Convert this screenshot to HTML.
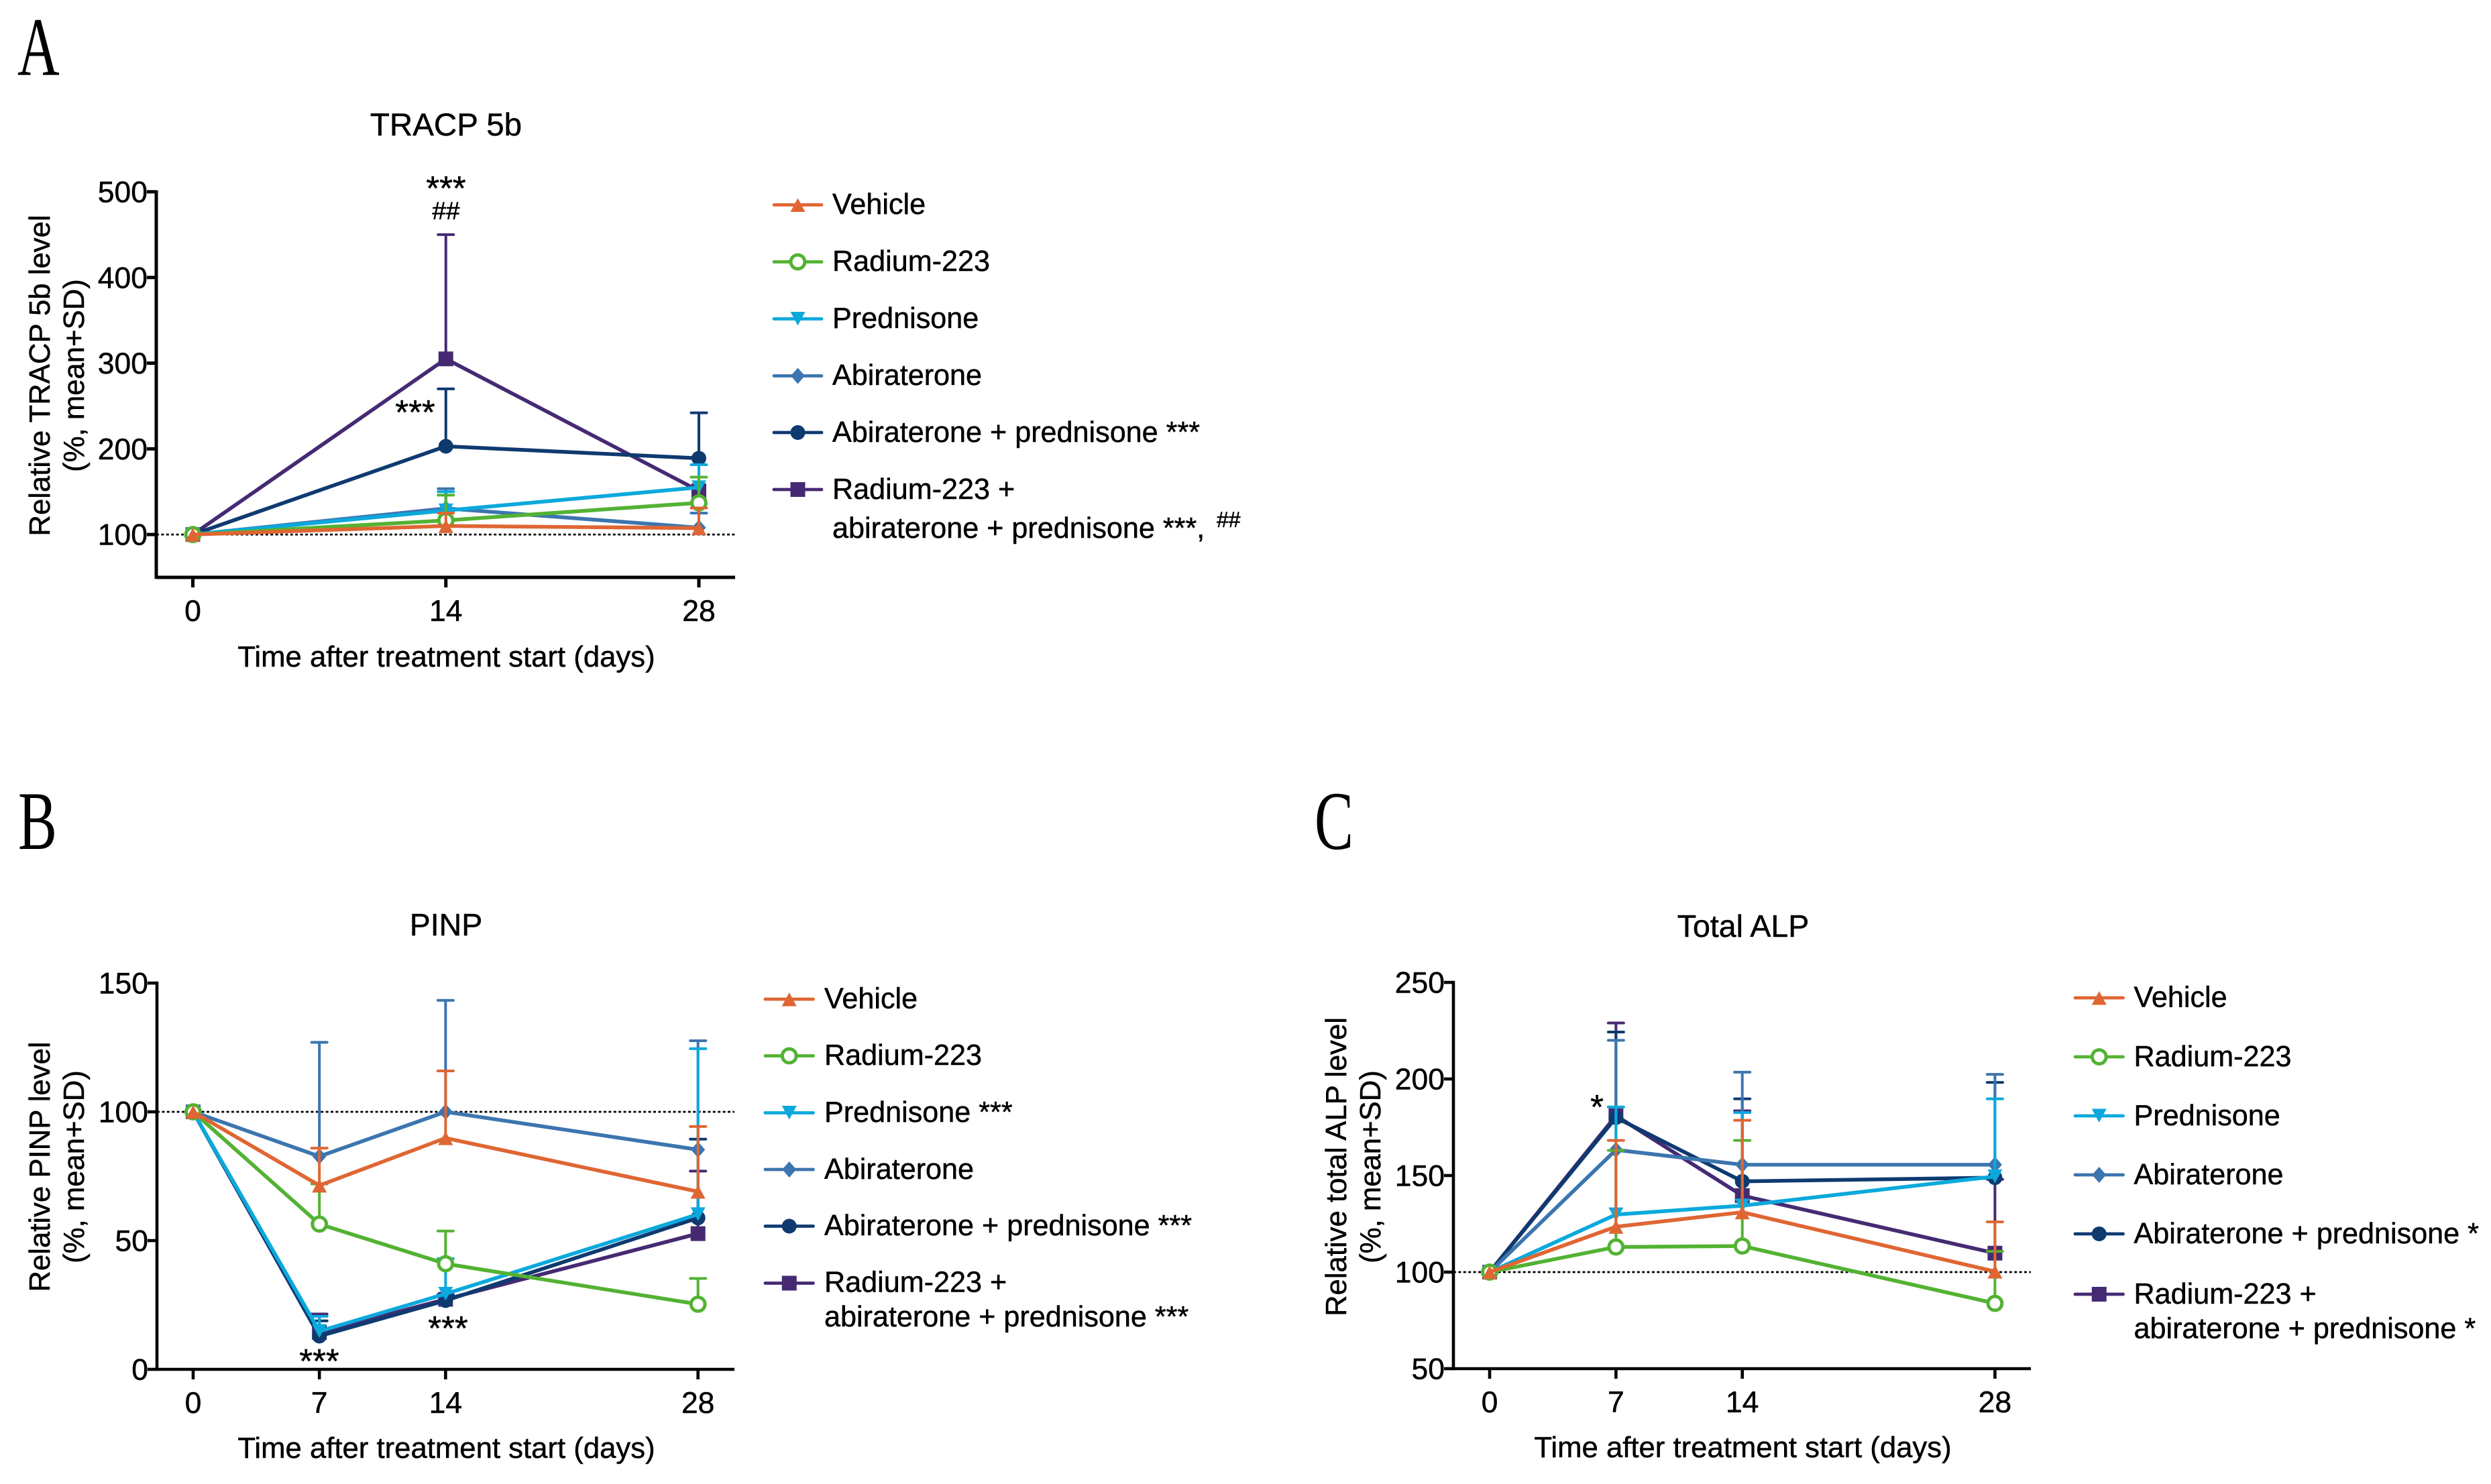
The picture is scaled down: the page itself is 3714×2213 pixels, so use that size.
<!DOCTYPE html>
<html lang="en">
<head>
<meta charset="utf-8">
<title>Bone turnover markers</title>
<style>
html,body{margin:0;padding:0;background:#fff;}
svg{display:block;}
text{font-family:"Liberation Sans",Arial,sans-serif;fill:#000;stroke:#000;stroke-width:0.5px;}
.letter{font-family:"Liberation Serif",serif;font-size:124px;stroke-width:0;}
.axis-label{font-size:43.7px;}
.title{font-size:46.5px;}
.legend{font-size:43.15px;}
.stars{font-size:51px;}
</style>
</head>
<body>
<svg id="figure" xmlns="http://www.w3.org/2000/svg" width="3714" height="2213" viewBox="0 0 3714 2213">
  <rect x="0" y="0" width="3714" height="2213" fill="#fff"/>

  <text class="letter" transform="translate(26,112) scale(0.7,1)">A</text>
  <text class="letter" transform="translate(27,1266) scale(0.7,1)">B</text>
  <text class="letter" transform="translate(1960,1266) scale(0.7,1)">C</text>

  <text class="title" x="665" y="202" text-anchor="middle" style="font-size:47.5px">TRACP 5b</text>
  <text class="title" x="665" y="1395" text-anchor="middle">PINP</text>
  <text class="title" x="2599" y="1397" text-anchor="middle">Total ALP</text>

  <text class="axis-label" transform="translate(74,560) rotate(-90)" text-anchor="middle">Relative TRACP 5b level</text>
  <text class="axis-label" transform="translate(125,560) rotate(-90)" text-anchor="middle">(%, mean+SD)</text>
  <text class="axis-label" transform="translate(74,1740) rotate(-90)" text-anchor="middle">Relative PINP level</text>
  <text class="axis-label" transform="translate(125,1740) rotate(-90)" text-anchor="middle">(%, mean+SD)</text>
  <text class="axis-label" transform="translate(2007,1740) rotate(-90)" text-anchor="middle">Relative total ALP level</text>
  <text class="axis-label" transform="translate(2058,1740) rotate(-90)" text-anchor="middle">(%, mean+SD)</text>

  <text class="axis-label" x="665.5" y="994" text-anchor="middle">Time after treatment start (days)</text>
  <text class="axis-label" x="665.5" y="2174" text-anchor="middle">Time after treatment start (days)</text>
  <text class="axis-label" x="2598.5" y="2173" text-anchor="middle">Time after treatment start (days)</text>

  <g id="marks-a"></g>
  <g id="marks-b"></g>
  <g id="marks-c"></g>
  <g id="legend-marks"></g>

  <text class="stars" x="665" y="298" text-anchor="middle">***</text>
  <text x="665" y="327" text-anchor="middle" font-size="37">##</text>
  <text class="stars" x="619" y="632" text-anchor="middle">***</text>
  <text class="stars" x="476" y="2047" text-anchor="middle">***</text>
  <text class="stars" x="668" y="1998" text-anchor="middle">***</text>
  <text class="stars" x="2381" y="1668" text-anchor="middle">*</text>

  <g class="legend">
    <text x="1241" y="319">Vehicle</text>
    <text x="1241" y="404">Radium-223</text>
    <text x="1241" y="489">Prednisone</text>
    <text x="1241" y="574">Abiraterone</text>
    <text x="1241" y="659">Abiraterone + prednisone ***</text>
    <text x="1241" y="744">Radium-223 +</text>
    <text x="1241" y="802">abiraterone + prednisone ***,</text>
    <text x="1814" y="786" font-size="32">##</text>
  </g>
  <g class="legend">
    <text x="1229" y="1503.5">Vehicle</text>
    <text x="1229" y="1588">Radium-223</text>
    <text x="1229" y="1673">Prednisone ***</text>
    <text x="1229" y="1758">Abiraterone</text>
    <text x="1229" y="1842">Abiraterone + prednisone ***</text>
    <text x="1229" y="1926.5">Radium-223 +</text>
    <text x="1229" y="1978">abiraterone + prednisone ***</text>
  </g>
  <g class="legend">
    <text x="3181.5" y="1501.5">Vehicle</text>
    <text x="3181.5" y="1590">Radium-223</text>
    <text x="3181.5" y="1678">Prednisone</text>
    <text x="3181.5" y="1766">Abiraterone</text>
    <text x="3181.5" y="1854">Abiraterone + prednisone *</text>
    <text x="3181.5" y="1944">Radium-223 +</text>
    <text x="3181.5" y="1995.5">abiraterone + prednisone *</text>
  </g>
</svg>

<script>
// ---------- Panel A: TRACP 5b ----------
const tracpDays = [0, 14, 28];
const tracpYTicks = [100, 200, 300, 400, 500];
const tracpComboMean = [100, 305, 151];
const tracpComboUpper = [null, 450, null];
const tracpAbiPredMean = [100, 203, 189];
const tracpAbiPredUpper = [null, 270, 242];
const tracpAbiMean = [100, 130.5, 108];
const tracpAbiUpper = [null, 153.5, 125];
const tracpPredMean = [100, 128, 155];
const tracpPredUpper = [null, 150, 181.5];
const tracpRadiumMean = [100, 116.5, 137];
const tracpRadiumUpper = [null, 146, 167];
const tracpVehicleMean = [100, 110, 107.5];
const tracpVehicleUpper = [null, 125, 131];

// ---------- Panel B: PINP ----------
const pinpDays = [0, 7, 14, 28];
const pinpYTicks = [0, 50, 100, 150];
const pinpComboMean = [100, 14.3, 27.2, 52.7];
const pinpComboUpper = [null, 21.5, 29, 77];
const pinpAbiPredMean = [100, 12.9, 26.7, 58.8];
const pinpAbiPredUpper = [null, 18.8, 29, 89.4];
const pinpAbiMean = [100, 82.7, 100, 85.3];
const pinpAbiUpper = [null, 127, 143.3, 127.6];
const pinpPredMean = [100, 14.8, 29.3, 60.2];
const pinpPredUpper = [null, 20.6, 43, 124.5];
const pinpRadiumMean = [100, 56.4, 41, 25.3];
const pinpRadiumUpper = [null, 72, 53.7, 35.3];
const pinpVehicleMean = [100, 71.4, 89.8, 69];
const pinpVehicleUpper = [null, 85.9, 115.9, 94.3];

// ---------- Panel C: Total ALP ----------
const alpDays = [0, 7, 14, 28];
const alpYTicks = [50, 100, 150, 200, 250];
const alpComboMean = [100, 181, 139.6, 109.8];
const alpComboUpper = [null, 229, 183.5, 148];
const alpAbiPredMean = [100, 180, 147, 148.9];
const alpAbiPredUpper = [null, 224.3, 189.7, 198.2];
const alpAbiMean = [100, 163.3, 155.6, 155.6];
const alpAbiUpper = [null, 220, 203.5, 202.4];
const alpPredMean = [100, 129.8, 134.4, 149.5];
const alpPredUpper = [null, 185.5, 182.6, 189.7];
const alpRadiumMean = [100, 113, 113.5, 83.8];
const alpRadiumUpper = [null, 163, 168.2, 110.7];
const alpVehicleMean = [100, 123.5, 131, 100.3];
const alpVehicleUpper = [null, 168.2, 178.6, 126];

const SVG_NS = 'http://www.w3.org/2000/svg';
const STYLE = {
  combo: { color: '#452A73', marker: 'square' },
  abiPred: { color: '#0E3A70', marker: 'circle' },
  abi: { color: '#3C75AF', marker: 'diamond' },
  pred: { color: '#0BA9DC', marker: 'down' },
  radium: { color: '#53B233', marker: 'open' },
  vehicle: { color: '#DF6633', marker: 'up' }
};

function make(tag, attrs, parent) {
  const el = document.createElementNS(SVG_NS, tag);
  Object.keys(attrs).forEach(function (k) { el.setAttribute(k, attrs[k]); });
  parent.appendChild(el);
  return el;
}

function drawMarker(kind, color, x, y, parent) {
  let el;
  if (kind === 'square') {
    el = make('rect', { x: x - 11, y: y - 11, width: 22, height: 22, fill: color }, parent);
  } else if (kind === 'circle') {
    el = make('circle', { cx: x, cy: y, r: 11, fill: color }, parent);
  } else if (kind === 'open') {
    el = make('circle', { cx: x, cy: y, r: 10.4, fill: '#fff', stroke: color, 'stroke-width': 5 }, parent);
  } else if (kind === 'diamond') {
    el = make('polygon', { points: [x, y - 12, x + 10.5, y, x, y + 12, x - 10.5, y].join(','), fill: color }, parent);
  } else if (kind === 'up') {
    el = make('polygon', { points: [x, y - 10, x + 11, y + 10.5, x - 11, y + 10.5].join(','), fill: color }, parent);
  } else {
    el = make('polygon', { points: [x, y + 10, x + 11, y - 10.5, x - 11, y - 10.5].join(','), fill: color }, parent);
  }
  return el;
}

function drawPanel(cfg) {
  const root = document.getElementById(cfg.id);
  const xScale = function (d) { return cfg.x0 + d / 28 * (cfg.x28 - cfg.x0); };
  const yScale = function (v) {
    return cfg.yBottom + (v - cfg.yMin) / (cfg.yMax - cfg.yMin) * (cfg.yTop - cfg.yBottom);
  };

  // reference line
  const ref = make('line', {
    x1: cfg.axisX, x2: cfg.axisEnd, y1: yScale(100), y2: yScale(100),
    stroke: '#000', 'stroke-width': 2.8, 'stroke-dasharray': '4 3.4'
  }, root);
  
  

  // axes
  const yAxis = make('line', {
    x1: cfg.axisX, x2: cfg.axisX, y1: yScale(cfg.yMax) - 2.2, y2: cfg.yBottom + 2.2,
    stroke: '#000', 'stroke-width': cfg.axisWidth
  }, root);
  
  

  const xAxis = make('line', {
    x1: cfg.axisX, x2: cfg.axisEnd, y1: cfg.yBottom, y2: cfg.yBottom,
    stroke: '#000', 'stroke-width': cfg.axisWidth
  }, root);
  
  

  cfg.yTicks.forEach(function (v) {
    const tick = make('line', {
      x1: cfg.axisX - 14, x2: cfg.axisX, y1: yScale(v), y2: yScale(v),
      stroke: '#000', 'stroke-width': cfg.axisWidth
    }, root);
    
    
    const label = make('text', {
      x: cfg.axisX - 13, y: yScale(v) + 15.5, 'text-anchor': 'end', 'font-size': 44.5
    }, root);
    label.textContent = String(v);
    
    
  });

  cfg.days.forEach(function (d) {
    const tick = make('line', {
      x1: xScale(d), x2: xScale(d), y1: cfg.yBottom, y2: cfg.yBottom + 15,
      stroke: '#000', 'stroke-width': cfg.axisWidth
    }, root);
    
    
    const label = make('text', {
      x: xScale(d), y: cfg.xLabelY, 'text-anchor': 'middle', 'font-size': 44.5
    }, root);
    label.textContent = String(d);
    
    
  });

  // series (back to front)
  cfg.series.forEach(function (s) {
    const style = STYLE[s.key];
    const group = make('g', {}, root);
    
    

    cfg.days.forEach(function (d, i) {
      if (s.upper[i] === null) { return; }
      const px = xScale(d);
      const py = yScale(s.upper[i]);
      const bar = make('line', {
        x1: px, x2: px, y1: yScale(s.mean[i]), y2: py, stroke: style.color, 'stroke-width': 4
      }, group);
      
      
      const cap = make('line', {
        x1: px - 11.5, x2: px + 11.5, y1: py, y2: py,
        stroke: style.color, 'stroke-width': 4, 'stroke-linecap': 'round'
      }, group);
      
      
    });

    const pts = cfg.days.map(function (d, i) { return xScale(d) + ',' + yScale(s.mean[i]); }).join(' ');
    const line = make('polyline', {
      points: pts, fill: 'none', stroke: style.color, 'stroke-width': 5.6, 'stroke-linejoin': 'round'
    }, group);
    
    

    cfg.days.forEach(function (d, i) {
      const marker = drawMarker(style.marker, style.color, xScale(d), yScale(s.mean[i]), group);
      
      
    });
  });
}

drawPanel({
  id: 'marks-a', axisX: 233, axisEnd: 1096, axisWidth: 5, x0: 287.5, x28: 1042,
  yBottom: 861, yTop: 286, yMin: 50, yMax: 500, xLabelY: 926,
  days: tracpDays, yTicks: tracpYTicks,
  series: [
    { key: 'combo', mean: tracpComboMean, upper: tracpComboUpper },
    { key: 'abiPred', mean: tracpAbiPredMean, upper: tracpAbiPredUpper },
    { key: 'abi', mean: tracpAbiMean, upper: tracpAbiUpper },
    { key: 'pred', mean: tracpPredMean, upper: tracpPredUpper },
    { key: 'radium', mean: tracpRadiumMean, upper: tracpRadiumUpper },
    { key: 'vehicle', mean: tracpVehicleMean, upper: tracpVehicleUpper }
  ]
});

drawPanel({
  id: 'marks-b', axisX: 234, axisEnd: 1095, axisWidth: 4.6, x0: 288, x28: 1040.7,
  yBottom: 2042, yTop: 1466, yMin: 0, yMax: 150, xLabelY: 2107,
  days: pinpDays, yTicks: pinpYTicks,
  series: [
    { key: 'combo', mean: pinpComboMean, upper: pinpComboUpper },
    { key: 'abiPred', mean: pinpAbiPredMean, upper: pinpAbiPredUpper },
    { key: 'abi', mean: pinpAbiMean, upper: pinpAbiUpper },
    { key: 'pred', mean: pinpPredMean, upper: pinpPredUpper },
    { key: 'radium', mean: pinpRadiumMean, upper: pinpRadiumUpper },
    { key: 'vehicle', mean: pinpVehicleMean, upper: pinpVehicleUpper }
  ]
});

drawPanel({
  id: 'marks-c', axisX: 2167, axisEnd: 3028, axisWidth: 4.6, x0: 2221, x28: 2974.4,
  yBottom: 2041, yTop: 1465, yMin: 50, yMax: 250, xLabelY: 2106,
  days: alpDays, yTicks: alpYTicks,
  series: [
    { key: 'combo', mean: alpComboMean, upper: alpComboUpper },
    { key: 'abiPred', mean: alpAbiPredMean, upper: alpAbiPredUpper },
    { key: 'abi', mean: alpAbiMean, upper: alpAbiUpper },
    { key: 'pred', mean: alpPredMean, upper: alpPredUpper },
    { key: 'radium', mean: alpRadiumMean, upper: alpRadiumUpper },
    { key: 'vehicle', mean: alpVehicleMean, upper: alpVehicleUpper }
  ]
});

// legend swatches
const legendOrder = ['vehicle', 'radium', 'pred', 'abi', 'abiPred', 'combo'];
function drawLegend(x1, x2, rows) {
  const root = document.getElementById('legend-marks');
  legendOrder.forEach(function (key, i) {
    const style = STYLE[key];
    const line = make('line', {
      x1: x1, x2: x2, y1: rows[i], y2: rows[i], stroke: style.color,
      'stroke-width': 4.8, 'stroke-linecap': 'round'
    }, root);
    
    
    const marker = drawMarker(style.marker, style.color, (x1 + x2) / 2, rows[i], root);
    
    
  });
}
drawLegend(1154, 1225, [305.5, 390.5, 475.5, 560.5, 645, 730]);
drawLegend(1141, 1212.5, [1490, 1574.5, 1659.5, 1744, 1828.5, 1913.5]);
drawLegend(3094, 3165.5, [1488, 1576, 1664, 1752, 1840, 1930]);
</script>
</body>
</html>
